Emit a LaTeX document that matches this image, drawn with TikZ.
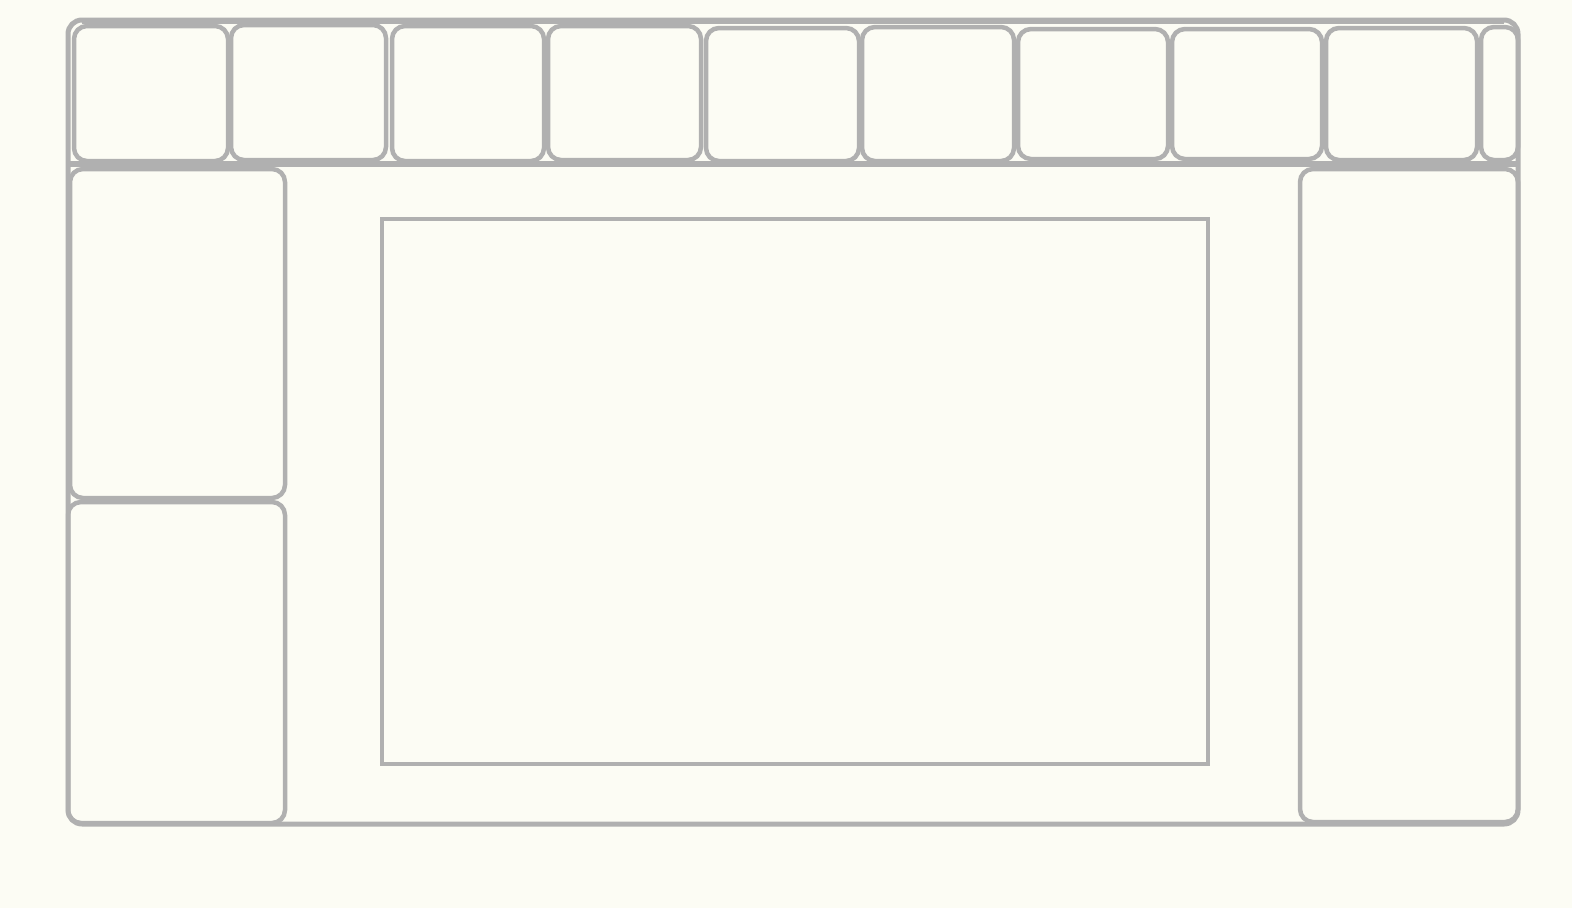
\documentclass[tikz,border=0pt]{standalone}
\definecolor{bg}{HTML}{FCFCF4}
\definecolor{ln}{HTML}{B0B0B0}
\begin{document}
\begin{tikzpicture}[x=1pt,y=-1pt,
  cell/.style={draw=ln,line width=4.5pt,rounded corners=13pt},
  frame/.style={draw=ln,line width=5pt,rounded corners=14pt},
  plain/.style={draw=ln,line width=3.5pt}]
\fill[bg] (0,0) rectangle (1572,908);
\useasboundingbox (0,0) rectangle (1572,908);
% outer frame
\draw[frame] (68,20) rectangle (1518,824);
\draw[draw=ln,line width=6pt] (82,21) -- (1504,21);
% divider
\draw[draw=ln,line width=5.5pt] (69,164) -- (1518,164);
% top cells
\draw[cell] (74,26) rectangle (228,161);
\draw[cell] (231,25) rectangle (386,160);
\draw[cell] (392,26) rectangle (544,161);
\draw[cell] (548,26) rectangle (701,160);
\draw[cell] (706,28) rectangle (859,161);
\draw[cell] (862,27) rectangle (1014,161);
\draw[cell] (1018,29) rectangle (1168,159);
\draw[cell] (1172,29) rectangle (1322,159);
\draw[cell] (1326,28) rectangle (1477,160);
\draw[cell] (1481,27) rectangle (1518,160);
% left column
\draw[cell] (70,169) rectangle (285,498);
\draw[cell] (68,502) rectangle (285,823);
% right box
\draw[cell] (1300,169) rectangle (1518,822);
% centre
\draw[plain] (382,219) rectangle (1208,764);
\end{tikzpicture}
\end{document}
